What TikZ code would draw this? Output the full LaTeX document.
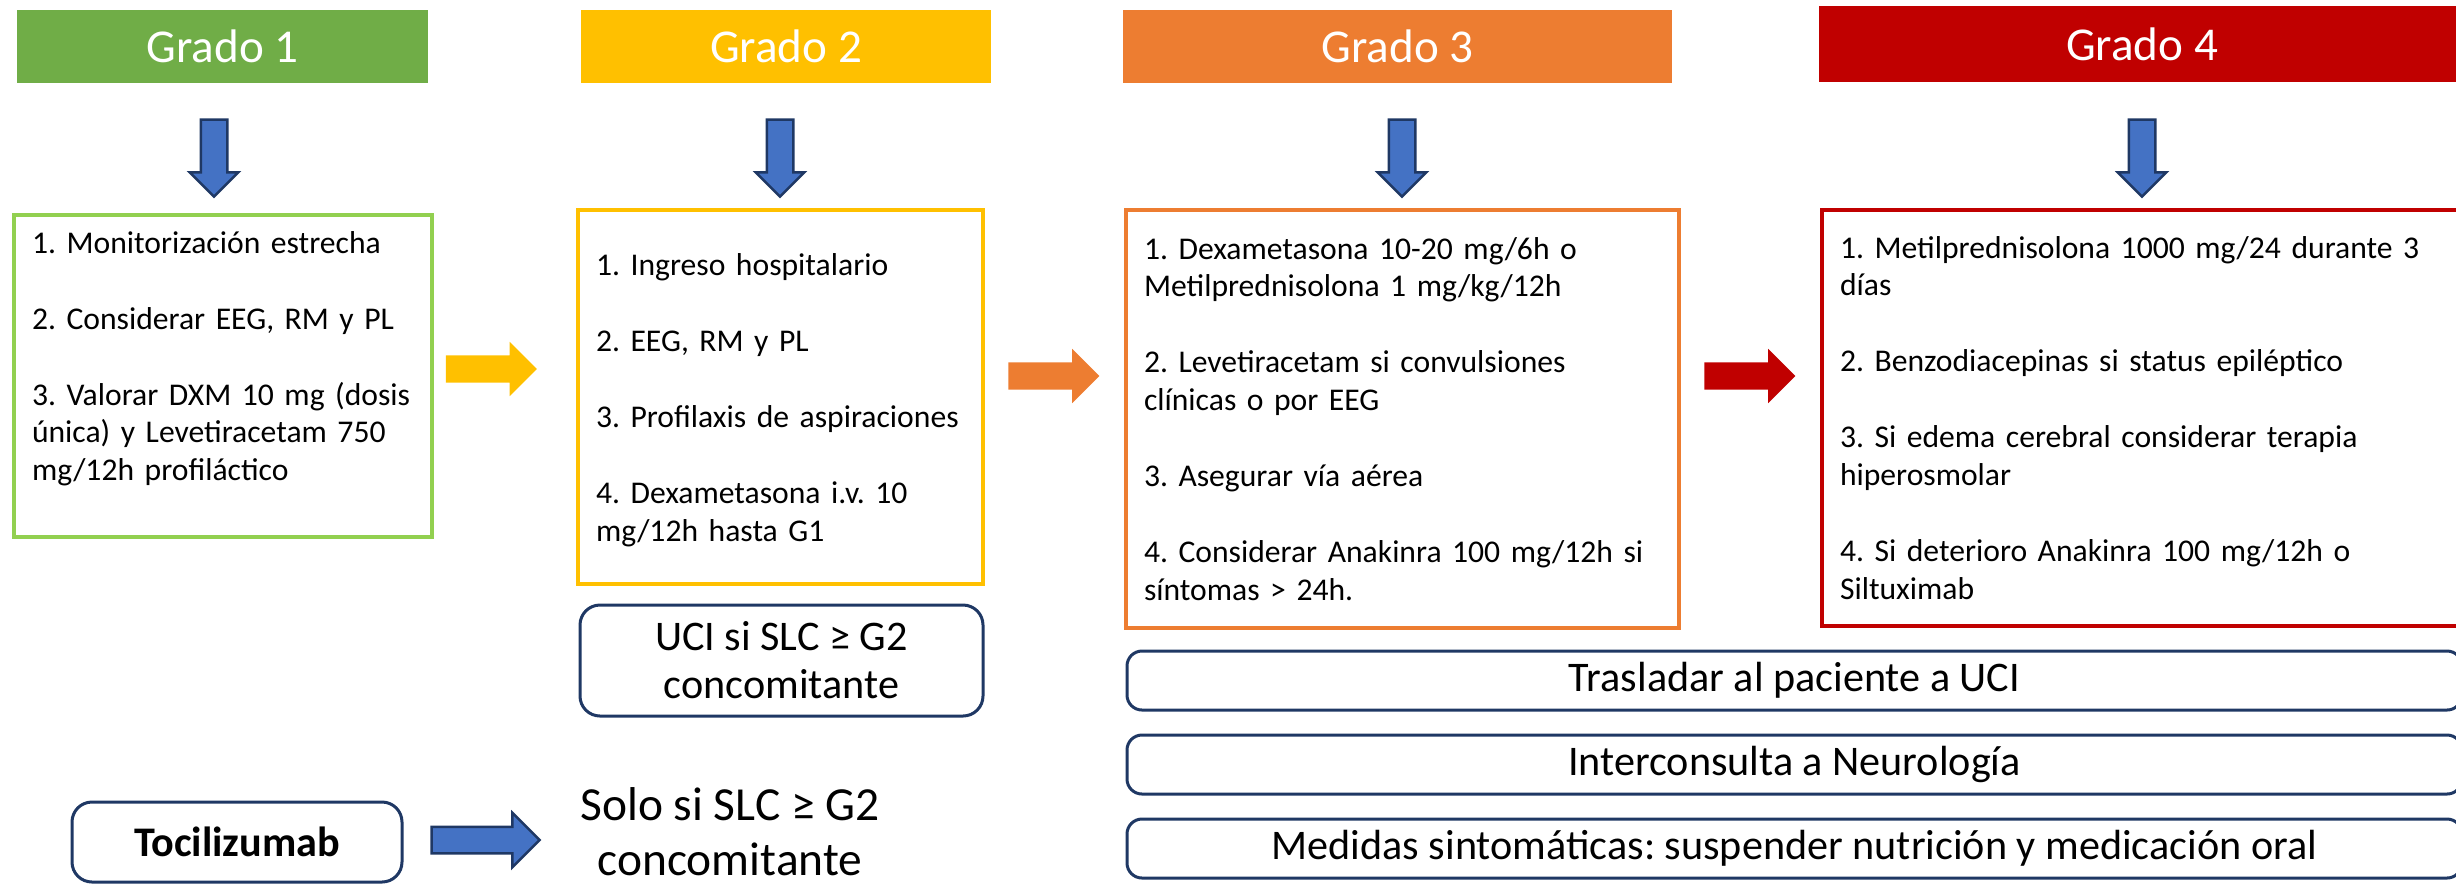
\documentclass[tikz,border=0pt]{standalone}
\usepackage{fontspec}
\setmainfont{Carlito}
\usetikzlibrary{
    shapes.arrows,
    positioning
}
\definecolor{gradoverde}{HTML}{70AD47}
\definecolor{verdeclaro}{HTML}{92D050}
\definecolor{gradoamarillo}{HTML}{FFC000}
\definecolor{gradonaranja}{HTML}{ED7D31}
\definecolor{gradorojo}{HTML}{C00000}
\definecolor{flechaazul}{HTML}{4472C4}
\definecolor{marino}{HTML}{1F3864}
\newcommand{\textocaja}{\fontsize{9}{10.8}\selectfont\hyphenpenalty=10000\relax}
\frenchspacing

\begin{document}
\begin{tikzpicture}[
    grado/.style={minimum height=.73cm, inner sep=0, text=white, font=\fontsize{13.4}{16}\selectfont},
    caja/.style={draw, line width=.045cm, inner xsep=.18cm, inner ysep=0, align=left, font=\textocaja},
    bajada/.style={single arrow, shape border rotate=270, fill=flechaazul, draw=marino, line width=.025cm,
        minimum height=.77cm, minimum width=.46cm, single arrow head extend=.11cm, inner sep=.12cm},
    paso/.style={single arrow, minimum height=.91cm, minimum width=.53cm, single arrow head extend=.135cm, inner sep=.13cm},
    aviso/.style={draw=marino, line width=.03cm, rounded corners=.2cm, inner sep=0, align=center,
        font=\fontsize{12}{13.6}\selectfont}
]
    \useasboundingbox (0, 0) rectangle (24.56, -8.85);

    \node[grado, fill=gradoverde, minimum width=4.11cm] (g1) at (2.225, -.465) {Grado 1};
    \node[grado, fill=gradoamarillo, minimum width=4.10cm] (g2) at (7.86, -.465) {Grado 2};
    \node[grado, fill=gradonaranja, minimum width=5.49cm] (g3) at (13.975, -.465) {Grado 3};
    \node[grado, fill=gradorojo, minimum width=6.46cm, minimum height=.76cm] (g4) at (21.42, -.44) {Grado 4};

    \node[bajada] (b1) at (2.14, -1.515) {};
    \node[bajada] (b2) at (7.80, -1.515) {};
    \node[bajada] (b3) at (14.02, -1.515) {};
    \node[bajada] (b4) at (21.42, -1.515) {};

    \node[caja, draw=verdeclaro, text width=3.82cm, minimum height=3.22cm] (c1) at (2.23, -3.76) {
        1. Monitorización estrecha\\[.38cm]
        2. Considerar EEG, RM y PL\\[.38cm]
        3. Valorar DXM 10 mg (dosis\\
        única) y Levetiracetam 750\\
        mg/12h profiláctico\\[.02cm]\mbox{}};
    \node[caja, draw=gradoamarillo, text width=3.69cm, minimum height=3.74cm] (c2) at (7.805, -3.97) {
        \rule{0pt}{.28cm}1. Ingreso hospitalario\\[.38cm]
        2. EEG, RM y PL\\[.38cm]
        3. Profilaxis de aspiraciones\\[.38cm]
        4. Dexametasona i.v. 10\\
        mg/12h hasta G1};
    \node[caja, draw=gradonaranja, text width=5.17cm, minimum height=4.18cm] (c3) at (14.025, -4.19) {
        1. Dexametasona 10-20 mg/6h o\\
        Metilprednisolona 1 mg/kg/12h\\[.38cm]
        2. Levetiracetam si convulsiones\\
        clínicas o por EEG\\[.38cm]
        3. Asegurar vía aérea\\[.38cm]
        4. Considerar Anakinra 100 mg/12h si\\
        síntomas > 24h.};
    \node[caja, draw=gradorojo, text width=6.04cm, minimum height=4.16cm] (c4) at (21.42, -4.18) {
        1. Metilprednisolona 1000 mg/24 durante 3\\
        días\\[.38cm]
        2. Benzodiacepinas si status epiléptico\\[.38cm]
        3. Si edema cerebral considerar terapia\\
        hiperosmolar\\[.38cm]
        4. Si deterioro Anakinra 100 mg/12h o\\
        Siltuximab};

    \node[paso, fill=gradoamarillo] (p1) at (4.845, -3.69) {};
    \node[paso, fill=gradonaranja] (p2) at (10.47, -3.76) {};
    \node[paso, fill=gradorojo] (p3) at (17.43, -3.76) {};

    \node[aviso, minimum width=4.03cm, minimum height=1.11cm] (uci) at (7.815, -6.605) {UCI si SLC ≥ G2\\concomitante};
    \node[aviso, rounded corners=.15cm, minimum width=13.35cm, minimum height=.59cm] (traslado) at (17.945, -6.805) {Trasladar al paciente a UCI};
    \node[aviso, rounded corners=.15cm, minimum width=13.35cm, minimum height=.59cm] (neuro) at (17.945, -7.645) {Interconsulta a Neurología};
    \node[aviso, rounded corners=.15cm, minimum width=13.35cm, minimum height=.59cm] (medidas) at (17.945, -8.485) {Medidas sintomáticas: suspender nutrición y medicación oral};

    \node[aviso, minimum width=3.30cm, minimum height=.80cm, font=\fontsize{12}{13.6}\selectfont\bfseries] (toci) at (2.37, -8.42) {Tocilizumab};
    \node[paso, fill=flechaazul, draw=marino, line width=.025cm, minimum height=1.08cm, minimum width=.52cm,
        single arrow head extend=.14cm, inner sep=.12cm] (p4) at (4.79, -8.40) {};
    \node[align=center, font=\fontsize{13.5}{15.6}\selectfont] (solo) at (7.30, -8.32) {Solo si SLC ≥ G2\\concomitante};
\end{tikzpicture}
\end{document}
